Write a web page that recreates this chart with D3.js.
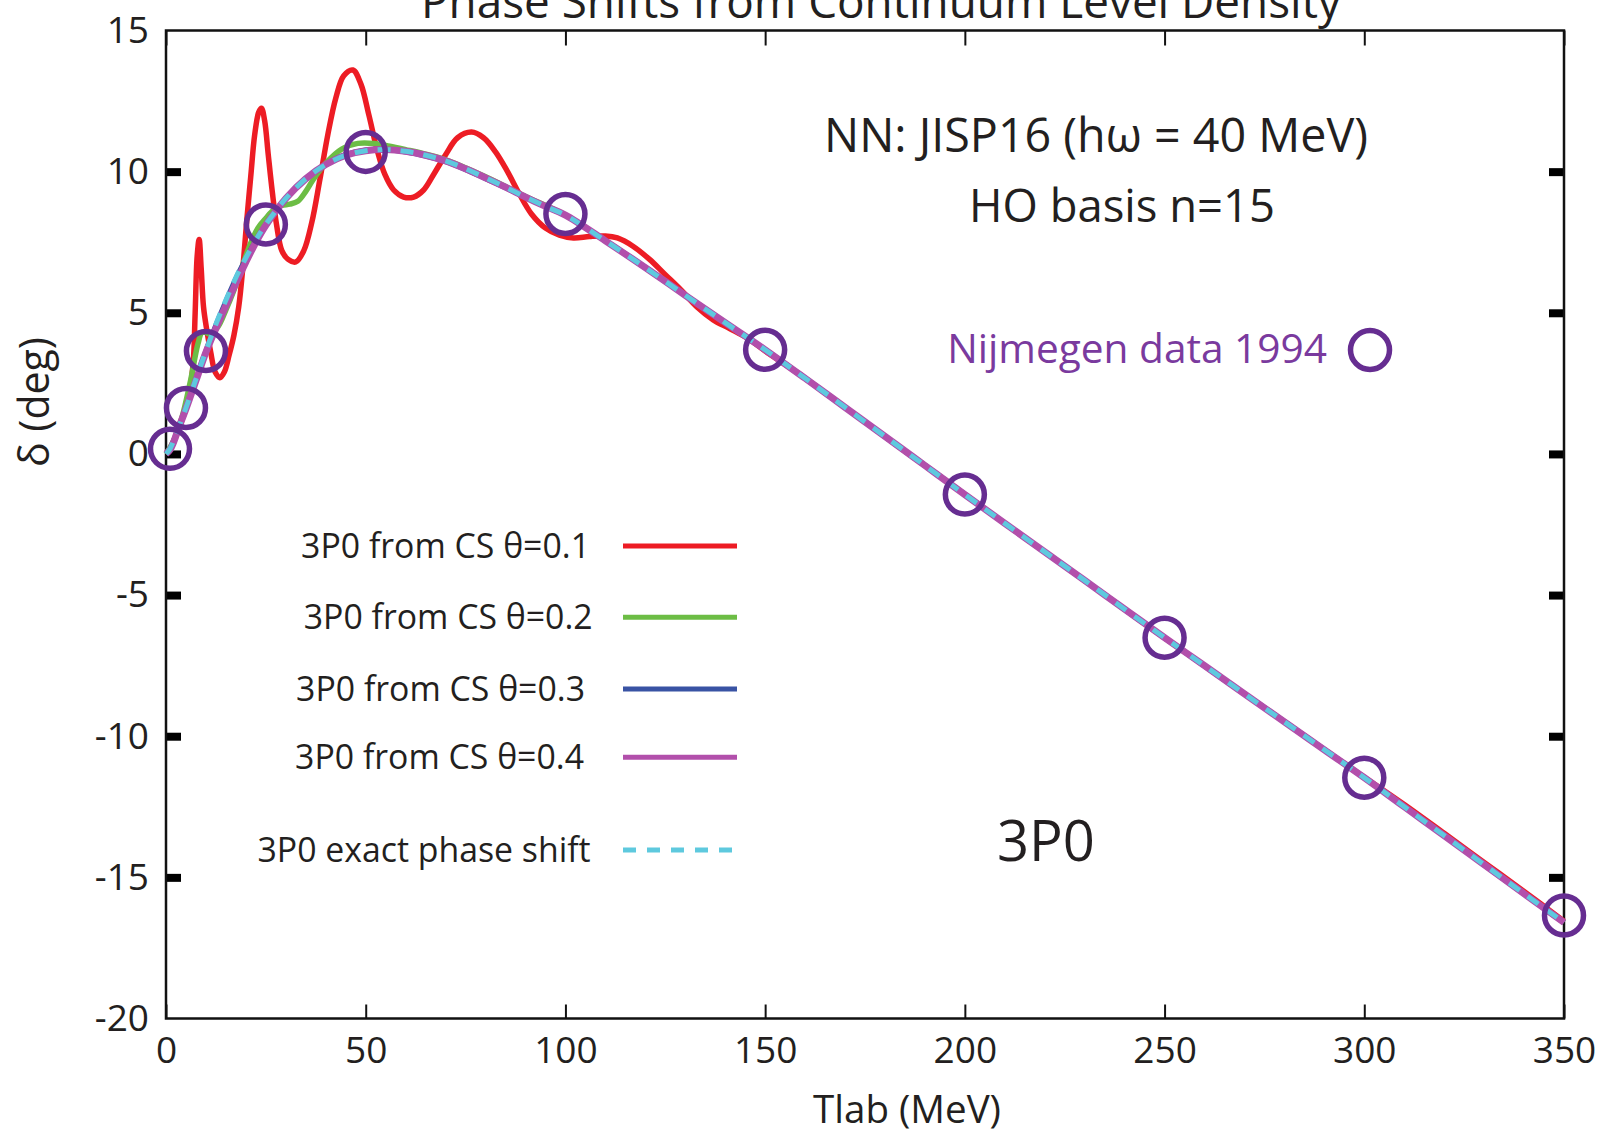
<!DOCTYPE html>
<html><head><meta charset="utf-8">
<script src="https://cdn.jsdelivr.net/npm/d3@7"></script>
<style>
body{margin:0;background:#fff}
svg{display:block}
text{font-family:"Open Sans","Noto Sans",sans-serif;fill:#231f20}
</style>
</head><body>
<svg id="chart" width="1611" height="1135"></svg>
<script>
// ---------- data ----------
const titleText = "Phase Shifts from Continuum Level Density";
const xTickValues = [0, 50, 100, 150, 200, 250, 300, 350];
const yTickValues = [-20, -15, -10, -5, 0, 5, 10, 15];
const xLabel = "Tlab (MeV)";
const yLabel = "δ (deg)";

// Nijmegen 1994 data points
const nijT = [1, 5, 10, 25, 50, 100, 150, 200, 250, 300, 350];
const nijD = [0.18, 1.63, 3.65, 8.13, 10.70, 8.50, 3.69, -1.44, -6.51, -11.47, -16.35];

// common high-energy part (all curves coincide there)
const tailT = [110,120,130,140,150,160,170,180,190,200,210,220,230,240,250,260,270,280,290,300,310,320,330,340,350];
const tailD = [7.55,6.6,5.62,4.65,3.69,2.68,1.65,0.62,-0.41,-1.44,-2.46,-3.47,-4.48,-5.5,-6.51,-7.5,-8.5,-9.49,-10.48,-11.47,-12.5,-13.52,-14.55,-15.58,-16.6];

// exact phase shift
const exactT = [0,1,2,3,5,7.5,10,12.5,15,17.5,20,22.5,25,30,35,40,45,50,55,60,65,70,75,80,85,90,95,100].concat(tailT);
const exactD = [0,0.18,0.5,0.88,1.63,2.65,3.65,4.6,5.45,6.25,6.95,7.58,8.13,9.05,9.75,10.25,10.58,10.74,10.78,10.72,10.58,10.38,10.1,9.78,9.45,9.1,8.77,8.46].concat(tailD);

// theta = 0.4
const th4T = [0,1,2,3,5,7.5,10,12.5,15,17.5,20,22.5,25,30,35,40,45,50,55,60,65,70,75,80,85,90,95,100].concat(tailT);
const th4D = [0,0.15,0.45,0.85,1.6,2.6,3.6,4.45,5.25,6.05,6.8,7.5,8.1,9.05,9.75,10.25,10.58,10.74,10.78,10.72,10.58,10.38,10.1,9.78,9.45,9.1,8.77,8.46].concat(tailD);

// theta = 0.3
const th3T = [0,1,2,3,5,7.5,10,12.5,15,17.5,20,22.5,25,30,35,40,45,50,55,60,65,70,75,80,85,90,95,100].concat(tailT);
const th3D = [0,0.17,0.48,0.87,1.62,2.63,3.63,4.55,5.4,6.2,6.9,7.55,8.12,9.05,9.75,10.25,10.6,10.76,10.78,10.7,10.56,10.36,10.08,9.76,9.44,9.1,8.77,8.46].concat(tailD);

// theta = 0.2
const th2T = [0,2,4,6,8,9,10,11,13,15,17,19,21,23,25,27,29,31,33,35,37,40,44,48,52,56,60,65,70,80,90,100].concat(tailT);
const th2D = [0,0.5,1.3,2.5,3.9,4.3,4.3,4.25,4.5,5.1,5.8,6.6,7.4,8.0,8.35,8.65,8.8,8.85,8.95,9.3,9.75,10.3,10.8,11.0,11.0,10.9,10.78,10.62,10.42,9.82,9.12,8.46].concat(tailD);

// theta = 0.1 (oscillating)
const th1T = [0,1,2,3,4,5,6,6.8,7.3,7.8,8.3,8.8,9.4,10.2,11.2,12.3,13.5,14.6,15.8,17,18.2,19.3,20.3,21.2,22.2,23.2,23.9,24.7,25.6,26.6,27.7,29,30.5,32.5,34.5,36.5,38.5,40.5,42.5,44.5,46.8,48.8,50.8,52.8,54.8,57,59.5,62,64.5,67,70,73,76.5,79.5,82.5,85.5,88.5,91.5,95,98.5,102,106,110,113,117,121,125,129,133,137,141,145,150,160,170,180,190,200,210,220,230,240,250,260,270,280,290,300,310,320,330,340,350];
const th1D = [0,0.15,0.45,0.8,1.2,1.7,2.3,3.2,5.0,7.0,7.6,6.6,5.2,4.4,3.6,2.9,2.7,2.9,3.5,4.2,5.2,6.7,8.4,9.8,11.3,12.1,12.25,11.8,10.6,9.3,8.1,7.2,6.9,6.8,7.2,8.2,9.7,11.3,12.6,13.4,13.6,13.1,12.0,10.8,9.9,9.35,9.1,9.1,9.35,9.9,10.6,11.2,11.4,11.2,10.7,10.0,9.2,8.5,8.0,7.75,7.65,7.7,7.72,7.65,7.35,6.9,6.35,5.8,5.2,4.75,4.45,4.15,3.65,2.68,1.65,0.62,-0.41,-1.44,-2.46,-3.47,-4.48,-5.5,-6.51,-7.5,-8.5,-9.49,-10.48,-11.45,-12.42,-13.44,-14.47,-15.5,-16.55];

const seriesNames = ["3P0 from CS θ=0.1","3P0 from CS θ=0.2","3P0 from CS θ=0.3","3P0 from CS θ=0.4","3P0 exact phase shift"];
const seriesColors = ["#ed1c24","#6cbd45","#3953a4","#b24fab","#5ec9de"];
const nijLabel = "Nijmegen data 1994";
const infoLines = ["NN: JISP16 (hω = 40 MeV)", "HO basis n=15"];
const waveLabel = "3P0";

// ---------- layout ----------
const svg = d3.select("#chart");
const L = 166, R = 1564, T = 30.5, B = 1018.5;
const x = d3.scaleLinear().domain([0, 350]).range([L, R]);
const y = d3.scaleLinear().domain([-20, 15]).range([B, T]);

function fit(sel, w) {
  const n = sel.node().getComputedTextLength();
  const fs = parseFloat(sel.attr("font-size"));
  sel.attr("font-size", (fs * w / n).toFixed(2));
  return sel;
}

// title (clipped at top, as in the original figure)
const title = svg.append("text").attr("x", 881).attr("y", 18).attr("text-anchor", "middle")
  .attr("font-size", 40).text(titleText);
fit(title, 920);

// axes
const fmt = d => String(d);
const gx = svg.append("g").attr("transform", `translate(0,${B})`)
  .call(d3.axisBottom(x).tickValues(xTickValues).tickSizeInner(-14).tickSizeOuter(0).tickPadding(18).tickFormat(fmt));
const gxTop = svg.append("g").attr("transform", `translate(0,${T})`)
  .call(d3.axisTop(x).tickValues(xTickValues).tickSizeInner(-15).tickSizeOuter(0).tickFormat(""));
const gy = svg.append("g").attr("transform", `translate(${L},0)`)
  .call(d3.axisLeft(y).tickValues(yTickValues).tickSizeInner(-15).tickSizeOuter(0).tickPadding(17).tickFormat(fmt));
const gyR = svg.append("g").attr("transform", `translate(${R},0)`)
  .call(d3.axisRight(y).tickValues(yTickValues).tickSizeInner(-15).tickSizeOuter(0).tickFormat(""));

[gx, gxTop, gy, gyR].forEach(g => {
  g.select(".domain").remove();
  g.selectAll("text").attr("font-family", "'Open Sans', sans-serif").attr("font-size", 37).attr("fill", "#231f20");
});
gx.selectAll(".tick line").attr("stroke", "#111").attr("stroke-width", 2);
gxTop.selectAll(".tick line").attr("stroke", "#111").attr("stroke-width", 2);
[gy, gyR].forEach(g => {
  g.selectAll(".tick line").attr("stroke", "#000").attr("stroke-width", 8)
    .attr("opacity", d => (d === 15 || d === -20) ? 0 : 1);
});

// frame
svg.append("rect").attr("x", L).attr("y", T).attr("width", R - L).attr("height", B - T)
  .attr("fill", "none").attr("stroke", "#111").attr("stroke-width", 2.5);

// axis titles
const xt = svg.append("text").attr("x", 907).attr("y", 1123).attr("text-anchor", "middle")
  .attr("font-size", 36).text(xLabel);
fit(xt, 188);
const yt = svg.append("text").attr("transform", "translate(49,402) rotate(-90)").attr("text-anchor", "middle")
  .attr("font-size", 36).text(yLabel);
fit(yt, 130);

// curves
const line = d3.line().x(d => x(d[0])).y(d => y(d[1])).curve(d3.curveCatmullRom.alpha(0.5));
const plot = svg.append("g");
const curves = [
  {t: th1T, d: th1D, w: 5.5},
  {t: th2T, d: th2D, w: 5.5},
  {t: th3T, d: th3D, w: 5.5},
  {t: th4T, d: th4D, w: 7},
  {t: exactT, d: exactD, w: 5, dash: "13,10"}
];
curves.forEach((c, i) => {
  plot.append("path").datum(d3.zip(c.t, c.d))
    .attr("fill", "none").attr("stroke", seriesColors[i]).attr("stroke-width", c.w)
    .attr("stroke-dasharray", c.dash || null).attr("stroke-linejoin", "round")
    .attr("d", line);
});

// Nijmegen circles
const circColor = "#662d91";
plot.selectAll("circle.nij").data(d3.zip(nijT, nijD)).join("circle").attr("class", "nij")
  .attr("cx", d => x(d[0])).attr("cy", d => y(d[1])).attr("r", 19.5)
  .attr("fill", "none").attr("stroke", circColor).attr("stroke-width", 5.5);

// legend
const legRows = [546, 617.3, 689, 757.3, 850];
const legRight = [590, 592.7, 585, 584, 590.7];
const legG = svg.append("g");
let legFont = 35;
seriesNames.forEach((name, i) => {
  const t = legG.append("text").attr("x", legRight[i]).attr("y", legRows[i] + 12)
    .attr("text-anchor", "end").attr("font-size", legFont).text(name);
  if (i === 0) { fit(t, 289); legFont = parseFloat(t.attr("font-size")); }
  legG.append("line").attr("x1", 623).attr("x2", 737).attr("y1", legRows[i]).attr("y2", legRows[i])
    .attr("stroke", seriesColors[i]).attr("stroke-width", 5)
    .attr("stroke-dasharray", i === 4 ? "13,11" : null);
});

// info texts
const t1 = svg.append("text").attr("x", 1096).attr("y", 152).attr("text-anchor", "middle")
  .attr("font-size", 44).text(infoLines[0]);
fit(t1, 544);
const t2 = svg.append("text").attr("x", 1122).attr("y", 222).attr("text-anchor", "middle")
  .attr("font-size", 44).text(infoLines[1]);
fit(t2, 306);
const t3 = svg.append("text").attr("x", 1327).attr("y", 363).attr("text-anchor", "end")
  .attr("font-size", 38).style("fill", "#7a3a9e").text(nijLabel);
fit(t3, 380);
svg.append("circle").attr("cx", 1370).attr("cy", 350).attr("r", 19.5)
  .attr("fill", "none").attr("stroke", circColor).attr("stroke-width", 5.5);
const t4 = svg.append("text").attr("x", 1046).attr("y", 861).attr("text-anchor", "middle")
  .attr("font-size", 50).text(waveLabel);
fit(t4, 98);
</script>
</body></html>
